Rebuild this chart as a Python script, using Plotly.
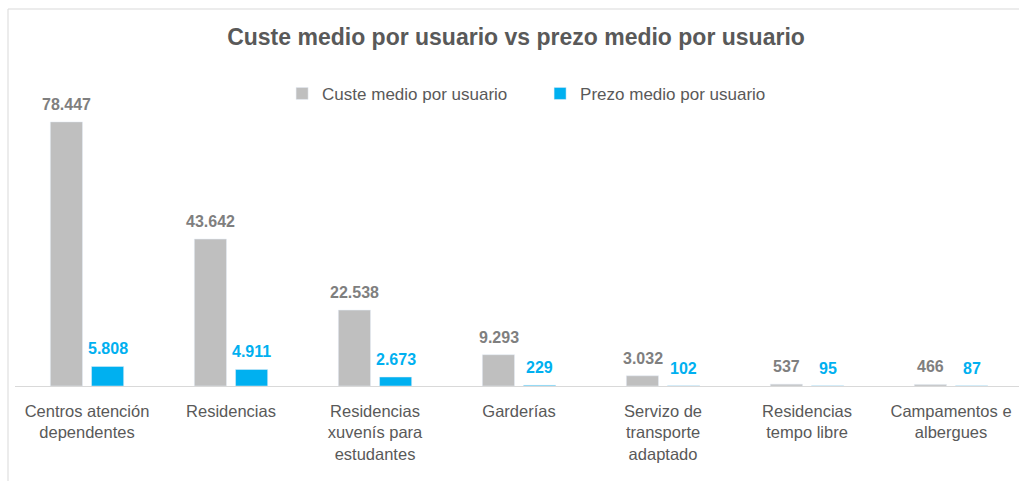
import plotly.graph_objects as go

categories = [
    "Centros atención<br>dependentes",
    "Residencias",
    "Residencias<br>xuvenís para<br>estudantes",
    "Garderías",
    "Servizo de<br>transporte<br>adaptado",
    "Residencias<br>tempo libre",
    "Campamentos e<br>albergues",
]
custe = [78447, 43642, 22538, 9293, 3032, 537, 466]
prezo = [5808, 4911, 2673, 229, 102, 95, 87]
series_names = ["Custe medio por usuario", "Prezo medio por usuario"]

GRAY = "#bfbfbf"
BLUE = "#00b0f0"
TXT = "#595959"
FONT = "Liberation Sans, Arial, sans-serif"

def fmt(v):
    return f"{v:,}".replace(",", ".")

xs = list(range(len(categories)))

fig = go.Figure()
fig.add_trace(go.Bar(x=xs, y=custe, name=series_names[0], marker_color=GRAY))
fig.add_trace(go.Bar(x=xs, y=prezo, name=series_names[1], marker_color=BLUE))

annotations = []
for i, (c, p) in enumerate(zip(custe, prezo)):
    annotations.append(dict(x=i, y=c, xref="x", yref="y", text=fmt(c), showarrow=False,
                            xshift=-20.5, yshift=7, yanchor="bottom",
                            font=dict(family=FONT, size=16, color="#7f7f7f", weight="bold")))
    annotations.append(dict(x=i, y=p, xref="x", yref="y", text=fmt(p), showarrow=False,
                            xshift=20.5, yshift=7, yanchor="bottom",
                            font=dict(family=FONT, size=16, color=BLUE, weight="bold")))

y_top = (386 - 9) / 303
x_left = -7 / 1004

fig.update_layout(
    width=1019, height=481,
    margin=dict(l=15, r=0, t=83, b=95),
    paper_bgcolor="white", plot_bgcolor="white",
    barmode="group", bargap=0.428, bargroupgap=0.22,
    font=dict(family=FONT, color=TXT),
    title=dict(text="<b>Custe medio por usuario vs prezo medio por usuario</b>",
               xref="container", x=516/1019, xanchor="center",
               yref="container", y=1-37/481, yanchor="middle",
               font=dict(family=FONT, size=23, color=TXT)),
    legend=dict(orientation="h", xref="paper", x=0.523, xanchor="center",
                y=0.964, yanchor="middle", font=dict(family=FONT, size=17, color=TXT),
                entrywidth=213, entrywidthmode="pixels",
                bgcolor="rgba(0,0,0,0)"),
    xaxis=dict(tickmode="array", tickvals=xs, ticktext=categories,
               range=[-0.5, 6.472], showline=True, linecolor="#d9d9d9", linewidth=1,
               ticks="", showgrid=False, zeroline=False, ticklabelstandoff=10,
               tickfont=dict(family=FONT, size=16.5, color=TXT)),
    yaxis=dict(range=[0, 90000], visible=False, showgrid=False, zeroline=False),
    annotations=annotations,
    shapes=[
        dict(type="line", xref="paper", yref="paper", x0=x_left, x1=x_left, y0=-0.4, y1=y_top,
             line=dict(color="#d9d9d9", width=1), layer="below"),
        dict(type="line", xref="paper", yref="paper", x0=x_left, x1=1.2, y0=y_top, y1=y_top,
             line=dict(color="#d9d9d9", width=1), layer="below"),
    ],
    showlegend=True,
)

fig.write_html("out.html", config={"displayModeBar": False})
with open("out.html", "r", encoding="utf-8") as f:
    html = f.read()
html = html.replace("<head>", "<head><style>html,body{margin:0;padding:0;overflow:hidden;}</style>", 1)
with open("out.html", "w", encoding="utf-8") as f:
    f.write(html)
